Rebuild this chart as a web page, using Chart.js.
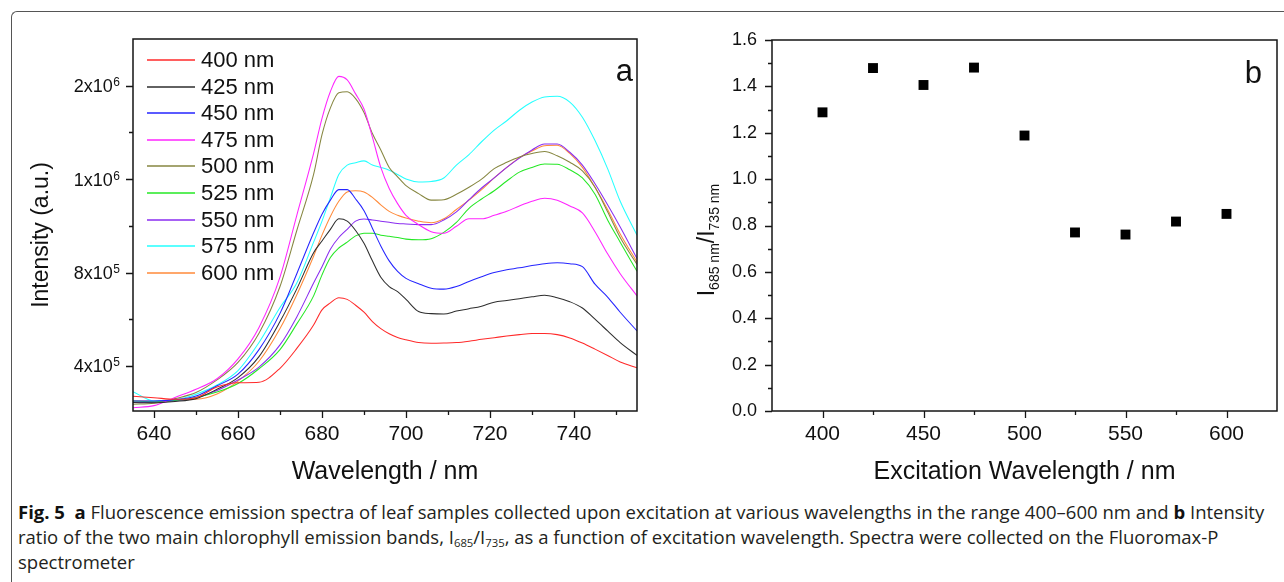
<!DOCTYPE html>
<html>
<head>
<meta charset="utf-8">
<script src="https://cdn.jsdelivr.net/npm/chart.js@4.4.0/dist/chart.umd.min.js"></script>
<style>
html,body{margin:0;padding:0;background:#fff;width:1284px;height:582px;overflow:hidden;position:relative;}
#frame{position:absolute;left:11px;top:11px;width:1320px;height:620px;border-left:1px solid #555;border-top:1px solid #555;border-top-left-radius:6px;}
#ca{position:absolute;left:0;top:0;}
#cb{position:absolute;left:660px;top:0;}
.ln{position:absolute;left:18px;white-space:nowrap;font-family:'Open Sans',sans-serif;font-size:18px;line-height:25px;color:#231f20;transform-origin:0 50%;}
.ln b{font-weight:700;color:#111;}
.ln sub{font-size:11px;vertical-align:-3px;line-height:0;}
</style>
</head>
<body>
<div id="frame"></div>
<canvas id="ca" width="660" height="500"></canvas>
<canvas id="cb" width="624" height="500"></canvas>
<div class="ln" id="l1" style="top:500px"><b>Fig. 5</b>&nbsp;&nbsp;<b>a</b> Fluorescence emission spectra of leaf samples collected upon excitation at various wavelengths in the range 400–600 nm and <b>b</b> Intensity</div>
<div class="ln" id="l2" style="top:525px">ratio of the two main chlorophyll emission bands, I<sub>685</sub>/I<sub>735</sub>, as a function of excitation wavelength. Spectra were collected on the Fluoromax-P</div>
<div class="ln" id="l3" style="top:550px">spectrometer</div>
<script>
// ---------- DATA (panel a: intensities in units of 1e5 a.u.) ----------
const SCALE = 1e5;
const wavelengths = [635, 640, 645, 650, 655, 660, 665, 670, 674, 678, 680, 682, 684, 686, 688, 690, 692, 694, 696, 698, 700, 703, 706, 709, 712, 715, 718, 721, 724, 727, 730, 733, 736, 739, 742, 745, 748, 751, 755];
const ex400 = [2.70, 2.64, 2.57, 2.64, 3.1, 3.28, 3.3, 3.9, 4.75, 5.75, 6.4, 6.7, 6.92, 6.85, 6.6, 6.3, 5.9, 5.6, 5.38, 5.22, 5.12, 5.0, 4.97, 4.98, 5.0, 5.06, 5.14, 5.21, 5.28, 5.34, 5.39, 5.39, 5.34, 5.2, 4.98, 4.72, 4.45, 4.17, 3.92];
const ex425 = [2.43, 2.42, 2.48, 2.6, 3.0, 3.5, 4.4, 5.9, 7.3, 8.85, 9.35, 9.85, 10.3, 10.2, 9.8, 9.25, 8.5, 7.8, 7.4, 7.18, 6.85, 6.33, 6.24, 6.22, 6.35, 6.45, 6.56, 6.73, 6.8, 6.88, 6.96, 7.03, 6.92, 6.75, 6.48, 6.0, 5.5, 5.0, 4.45];
const ex450 = [2.5, 2.5, 2.55, 2.71, 3.15, 3.65, 4.7, 6.25, 7.95, 9.7, 10.5, 11.1, 11.55, 11.55, 11.15, 10.65, 9.9, 9.14, 8.5, 8.05, 7.75, 7.52, 7.33, 7.29, 7.4, 7.62, 7.82, 8.0, 8.12, 8.2, 8.3, 8.38, 8.42, 8.38, 8.25, 7.5, 6.95, 6.3, 5.5];
const ex475 = [2.21, 2.3, 2.65, 3.0, 3.45, 4.3, 5.65, 7.8, 10.45, 13.1, 14.6, 15.75, 16.4, 16.25, 15.65, 15.0, 13.8, 12.5, 11.6, 10.95, 10.45, 10.05, 9.75, 9.68, 9.98, 10.3, 10.3, 10.45, 10.62, 10.85, 11.05, 11.18, 11.1, 10.85, 10.55, 9.75, 8.8, 7.95, 7.0];
const ex500 = [2.36, 2.4, 2.6, 2.86, 3.4, 4.15, 5.4, 7.4, 9.8, 12.2, 13.9, 15.05, 15.7, 15.74, 15.45, 14.85, 13.95, 13.25, 12.5, 12.1, 11.72, 11.38, 11.1, 11.12, 11.35, 11.65, 12.0, 12.45, 12.72, 12.95, 13.1, 13.18, 13.0, 12.72, 12.35, 11.65, 10.6, 9.5, 8.35];
const ex525 = [2.5, 2.47, 2.52, 2.65, 2.88, 3.25, 3.88, 4.7, 5.8, 7.0, 7.9, 8.64, 9.05, 9.3, 9.57, 9.68, 9.68, 9.6, 9.55, 9.5, 9.43, 9.4, 9.45, 9.72, 10.15, 10.75, 11.15, 11.5, 11.92, 12.3, 12.5, 12.65, 12.64, 12.4, 12.05, 11.35, 10.25, 9.3, 8.05];
const ex550 = [2.43, 2.45, 2.5, 2.65, 2.95, 3.4, 3.95, 4.9, 6.1, 7.55, 8.25, 9.0, 9.5, 9.85, 10.2, 10.29, 10.25, 10.2, 10.15, 10.1, 10.08, 10.05, 10.05, 10.25, 10.6, 11.12, 11.62, 12.05, 12.5, 12.9, 13.25, 13.5, 13.5, 13.15, 12.6, 11.8, 10.9, 9.95, 8.6];
const ex575 = [2.9, 2.5, 2.55, 2.79, 3.18, 3.8, 5.0, 6.5, 7.55, 9.3, 10.2, 11.2, 12.2, 12.6, 12.7, 12.78, 12.6, 12.5, 12.38, 12.2, 12.0, 11.88, 11.9, 12.05, 12.6, 13.05, 13.6, 14.1, 14.5, 14.95, 15.3, 15.52, 15.55, 15.3, 14.65, 13.65, 12.45, 11.05, 9.6];
const ex600 = [2.5, 2.5, 2.55, 2.57, 2.8, 3.35, 4.2, 5.6, 7.05, 8.7, 9.6, 10.4, 11.05, 11.45, 11.5, 11.45, 11.22, 10.9, 10.62, 10.45, 10.33, 10.2, 10.13, 10.3, 10.7, 11.1, 11.55, 12.05, 12.5, 12.92, 13.2, 13.43, 13.45, 13.1, 12.5, 11.65, 10.7, 9.65, 8.45];
const seriesLabels = ['400 nm', '425 nm', '450 nm', '475 nm', '500 nm', '525 nm', '550 nm', '575 nm', '600 nm'];
const seriesA = [ex400, ex425, ex450, ex475, ex500, ex525, ex550, ex575, ex600];
const aXMajor = [640, 660, 680, 700, 720, 740];
const aXMinor = [650, 670, 690, 710, 730, 750];
const aYMajor = [400000, 800000, 1200000, 1600000];
const aYMinor = [600000, 1000000, 1400000];
const aYMantissa = ['4x10', '8x10', '1x10', '2x10'];
const aYExponent = ['5', '5', '6', '6'];

// panel b
const excitation = [400, 425, 450, 475, 500, 525, 550, 575, 600];
const ratio = [1.288, 1.479, 1.406, 1.481, 1.188, 0.770, 0.761, 0.817, 0.850];
const bXMajor = [400, 450, 500, 550, 600];
const bXMinor = [425, 475, 525, 575];
const bYMajor = [0, 0.2, 0.4, 0.6, 0.8, 1.0, 1.2, 1.4, 1.6];
const bYMinor = [0.1, 0.3, 0.5, 0.7, 0.9, 1.1, 1.3, 1.5];

// ---------- STYLE ----------
const colors = ['#ff2a2a', '#2e2e2e', '#2525ff', '#ff25ff', '#868640', '#25e825', '#8a2df0', '#25ffff', '#ff8a3a'];
const FONT = "'Liberation Sans', Arial, Helvetica, sans-serif";
Chart.defaults.font.family = FONT;
Chart.defaults.color = '#111';

const axisFrame = {
  id: 'axisFrame',
  afterDraw(chart, args, o) {
    const {ctx, chartArea: ca, scales} = chart;
    ctx.save();
    ctx.strokeStyle = '#151515';
    ctx.lineWidth = 1.5;
    ctx.strokeRect(ca.left, ca.top, ca.right - ca.left, ca.bottom - ca.top);
    ctx.lineWidth = 1.3;
    ctx.beginPath();
    const tx = (vals, len) => vals.forEach(v => { const p = Math.round(scales.x.getPixelForValue(v)) + 0.5; ctx.moveTo(p, ca.bottom); ctx.lineTo(p, ca.bottom + len); });
    const ty = (vals, len) => vals.forEach(v => { const p = Math.round(scales.y.getPixelForValue(v)) + 0.5; ctx.moveTo(ca.left, p); ctx.lineTo(ca.left - len, p); });
    tx(o.xMajor, 7); tx(o.xMinor, 4); ty(o.yMajor, 7); ty(o.yMinor, 4);
    ctx.stroke();
    if (o.expLabels) {
      ctx.fillStyle = '#111';
      ctx.textAlign = 'right';
      ctx.textBaseline = 'alphabetic';
      o.yMajor.forEach((v, i) => {
        const y = scales.y.getPixelForValue(v);
        const xr = ca.left - 13;
        ctx.font = '12px ' + FONT;
        const w = ctx.measureText(o.expLabels.exp[i]).width;
        ctx.fillText(o.expLabels.exp[i], xr, y + 0.5);
        ctx.font = '18px ' + FONT;
        ctx.fillText(o.expLabels.man[i], xr - w - 0.5, y + 6.5);
      });
    }
    ctx.restore();
  }
};

const textDeco = {
  id: 'textDeco',
  afterDraw(chart, args, o) {
    const ctx = chart.ctx;
    ctx.save();
    ctx.fillStyle = '#111';
    ctx.font = o.tag.size + 'px ' + FONT;
    ctx.textAlign = 'right';
    ctx.textBaseline = 'alphabetic';
    ctx.fillText(o.tag.text, o.tag.x, o.tag.y);
    const parts = o.ytitle.parts;
    let total = 0;
    parts.forEach(p => { ctx.font = p.size + 'px ' + FONT; p.w = ctx.measureText(p.t).width; total += p.w; });
    ctx.translate(o.ytitle.x, o.ytitle.y);
    ctx.rotate(-Math.PI / 2);
    ctx.textAlign = 'left';
    let cx = -total / 2;
    parts.forEach(p => { ctx.font = p.size + 'px ' + FONT; ctx.fillText(p.t, cx, o.ytitle.base + (p.dy || 0)); cx += p.w; });
    ctx.restore();
    if (o.legend) {
      const L = o.legend;
      ctx.save();
      ctx.font = L.size + 'px ' + FONT;
      ctx.textBaseline = 'middle';
      ctx.textAlign = 'left';
      chart.data.datasets.forEach((ds, i) => {
        const y = Math.round(L.y0 + i * L.dy);
        ctx.strokeStyle = ds.borderColor;
        ctx.lineWidth = 1.5;
        ctx.beginPath(); ctx.moveTo(L.x0, y); ctx.lineTo(L.x1, y); ctx.stroke();
        ctx.fillStyle = '#111';
        ctx.fillText(ds.label, L.xt, y + 1);
      });
      ctx.restore();
    }
  }
};

const fixTicks = arr => s => { s.ticks = arr.map(v => ({value: v})); };

new Chart(document.getElementById('ca'), {
  type: 'line',
  data: {
    datasets: seriesA.map((s, i) => ({
      label: seriesLabels[i],
      data: wavelengths.map((w, j) => ({x: w, y: s[j] * SCALE})),
      borderColor: colors[i],
      borderWidth: 1.05,
      pointRadius: 0,
      cubicInterpolationMode: 'monotone',
      fill: false
    }))
  },
  options: {
    responsive: false, animation: false, devicePixelRatio: 1,
    layout: {padding: {left: 0, top: 39, right: 23, bottom: 0}},
    plugins: {
      legend: {display: false}, tooltip: {enabled: false},
      axisFrame: {xMajor: aXMajor, xMinor: aXMinor, yMajor: aYMajor, yMinor: aYMinor,
                  expLabels: {man: aYMantissa, exp: aYExponent}},
      textDeco: {
        tag: {text: 'a', x: 633, y: 81, size: 31},
        ytitle: {x: 40, y: 235, base: 8, parts: [{t: 'Intensity (a.u.)', size: 23}]},
        legend: {x0: 147, x1: 195, xt: 201, y0: 60, dy: 26.6, size: 22}
      }
    },
    scales: {
      x: {
        type: 'linear', min: 635, max: 755,
        afterBuildTicks: fixTicks(aXMajor),
        ticks: {font: {size: 21}, padding: 4, maxRotation: 0, autoSkip: false},
        grid: {display: false, drawTicks: true, tickLength: 7},
        border: {display: false},
        title: {display: true, text: 'Wavelength / nm', font: {size: 25}, padding: {top: 0, bottom: 13}},
        afterFit: s => { s.height = 89; }
      },
      y: {
        type: 'linear', min: 207000, max: 1800000,
        afterBuildTicks: fixTicks(aYMajor),
        ticks: {display: false},
        grid: {display: false, drawTicks: true, tickLength: 7},
        border: {display: false},
        afterFit: s => { s.width = 133; }
      }
    }
  },
  plugins: [axisFrame, textDeco]
});

new Chart(document.getElementById('cb'), {
  type: 'scatter',
  data: {
    datasets: [{
      label: 'I685/I735',
      data: excitation.map((x, i) => ({x: x, y: ratio[i]})),
      pointStyle: 'rect', pointRadius: 7,
      backgroundColor: '#000', borderColor: '#000', borderWidth: 0
    }]
  },
  options: {
    responsive: false, animation: false, devicePixelRatio: 1,
    layout: {padding: {left: 0, top: 40, right: 5, bottom: 0}},
    plugins: {
      legend: {display: false}, tooltip: {enabled: false},
      axisFrame: {xMajor: bXMajor, xMinor: bXMinor, yMajor: bYMajor, yMinor: bYMinor},
      textDeco: {
        tag: {text: 'b', x: 602, y: 83, size: 31},
        ytitle: {x: 46, y: 240, base: 8, parts: [
          {t: 'I', size: 23}, {t: '685 nm', size: 14, dy: 5},
          {t: '/I', size: 23}, {t: '735 nm', size: 14, dy: 5}
        ]}
      }
    },
    scales: {
      x: {
        type: 'linear', min: 375, max: 625,
        afterBuildTicks: fixTicks(bXMajor),
        ticks: {font: {size: 21}, padding: 4, maxRotation: 0, autoSkip: false},
        grid: {display: false, drawTicks: true, tickLength: 7},
        border: {display: false},
        title: {display: true, text: 'Excitation Wavelength / nm', font: {size: 25}, padding: {top: 0, bottom: 13}},
        afterFit: s => { s.height = 89; }
      },
      y: {
        type: 'linear', min: 0, max: 1.6,
        afterBuildTicks: fixTicks(bYMajor),
        ticks: {font: {size: 18}, padding: 8, autoSkip: false, callback: v => v.toFixed(1)},
        grid: {display: false, drawTicks: true, tickLength: 7},
        border: {display: false},
        afterFit: s => { s.width = 112; }
      }
    }
  },
  plugins: [axisFrame, textDeco]
});

(function () {
  const l1 = document.getElementById('l1');
  const k = 1246 / l1.scrollWidth;
  ['l1', 'l2', 'l3'].forEach(id => { document.getElementById(id).style.transform = 'scaleX(' + k + ')'; });
})();
</script>
</body>
</html>
